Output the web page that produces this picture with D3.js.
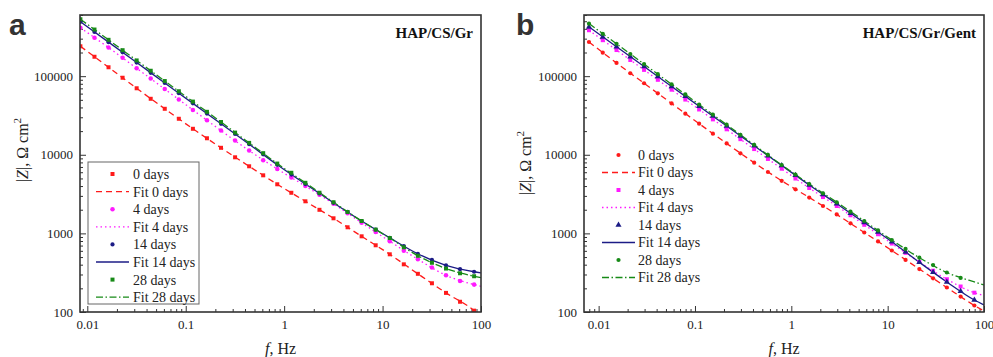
<!DOCTYPE html>
<html>
<head>
<meta charset="utf-8">
<script src="https://cdn.jsdelivr.net/npm/d3@7"></script>
<style>
body { margin: 0; background: #fff; }
svg { display: block; }
.tick text { font-family: "Liberation Serif", "Times New Roman", serif; font-size: 13px; fill: #222; }
.tick line { stroke: #333; }
</style>
</head>
<body>
<div id="chart"></div>
<script>
// |Z| vs frequency (Bode modulus), two panels

// panel a - HAP/CS/Gr
var freqA = [0.00851, 0.01183, 0.01643, 0.02284, 0.03173, 0.04409, 0.06124, 0.08511, 0.1183, 0.1643, 0.2284, 0.3173, 0.4409, 0.6124, 0.8511, 1.183, 1.643, 2.284, 3.173, 4.409, 6.124, 8.511, 11.83, 16.43, 22.84, 31.73, 44.09, 61.24, 85.11];
var zA0 = [240000, 176600, 129800, 95500, 70150, 51550, 38460, 28710, 21410, 16220, 12270, 9290, 7140, 5480, 4215, 3285, 2560, 1995, 1556, 1196, 918, 706, 542, 404, 306, 232, 175, 135, 104];
var zA4 = [413000, 308000, 231000, 171000, 126000, 93100, 68500, 50600, 37200, 27500, 20300, 15170, 11300, 8510, 6600, 5130, 4000, 3100, 2380, 1802, 1364, 1042, 794, 601, 468, 367, 293, 248, 223];
var zA14 = [492000, 365000, 271000, 201000, 149000, 110400, 81900, 60800, 45100, 33400, 24800, 18400, 13650, 10120, 7460, 5600, 4240, 3220, 2450, 1872, 1438, 1117, 879, 690, 550, 461, 393, 351, 325];
var zA28 = [530000, 392000, 290000, 214000, 158500, 117200, 86700, 64300, 47500, 35200, 26100, 19150, 14170, 10480, 7730, 5900, 4400, 3290, 2490, 1872, 1438, 1117, 874, 665, 519, 423, 357, 311, 285];

var fitFreqA = [0.00851, 0.01643, 0.03173, 0.06124, 0.1183, 0.2284, 0.4409, 0.8511, 1.643, 3.173, 6.124, 11.83, 22.84, 44.09, 85.11, 100];
var fitA0 = [240000, 129800, 70150, 38460, 21410, 12270, 7140, 4215, 2560, 1556, 918, 542, 306, 175, 104, 87];
var fitA4 = [413000, 231000, 126000, 68500, 37200, 20300, 11300, 6600, 4000, 2380, 1364, 794, 468, 293, 223, 212];
var fitA14 = [492000, 271000, 149000, 81900, 45100, 24800, 13650, 7460, 4240, 2450, 1438, 879, 550, 393, 325, 314];
var fitA28 = [530000, 290000, 158500, 86700, 47500, 26100, 14170, 7730, 4400, 2490, 1438, 874, 519, 357, 285, 274];

// panel b - HAP/CS/Gr/Gent
var freqB = [0.00794, 0.01104, 0.01534, 0.02132, 0.02962, 0.04115, 0.05718, 0.07943, 0.1104, 0.1534, 0.2132, 0.2962, 0.4115, 0.5718, 0.7943, 1.104, 1.534, 2.132, 2.962, 4.115, 5.718, 7.943, 11.04, 15.34, 21.32, 29.62, 41.15, 57.18, 79.43];
var zB0 = [272000, 199000, 147200, 108900, 81300, 60600, 44960, 33340, 24890, 18540, 13930, 10450, 7930, 6040, 4670, 3640, 2860, 2230, 1740, 1344, 1026, 789, 606, 459, 352, 268, 205, 157, 121];
var zB4 = [384000, 287000, 215000, 160700, 120200, 89900, 67300, 50400, 37700, 28200, 21100, 15800, 11820, 8850, 6650, 4990, 3780, 2900, 2230, 1700, 1286, 975, 743, 566, 433, 335, 261, 211, 176];
var zB14 = [423000, 316000, 237000, 177000, 132400, 99100, 74100, 55500, 41500, 31050, 23230, 17380, 13020, 9740, 7310, 5480, 4130, 3126, 2380, 1807, 1371, 1042, 782, 580, 429, 320, 241, 184, 142];
var zB28 = [466000, 346000, 258000, 191500, 142600, 106000, 78900, 58600, 43600, 32500, 24150, 17960, 13370, 9940, 7410, 5610, 4250, 3240, 2490, 1888, 1438, 1089, 824, 634, 491, 396, 318, 271];

var fitFreqB = [0.00794, 0.01534, 0.02962, 0.05718, 0.1104, 0.2132, 0.4115, 0.7943, 1.534, 2.962, 5.718, 11.04, 21.32, 41.15, 79.43, 100];
var fitB0 = [272000, 147200, 81300, 44960, 24890, 13930, 7930, 4670, 2860, 1740, 1026, 606, 352, 205, 121, 103];
var fitB4 = [384000, 215000, 120200, 67300, 37700, 21100, 11820, 6650, 3780, 2230, 1286, 743, 433, 261, 176, 162];
var fitB14 = [423000, 237000, 132400, 74100, 41500, 23230, 13020, 7310, 4130, 2380, 1371, 782, 429, 241, 142, 123];
var fitB28 = [466000, 258000, 142600, 78900, 43600, 24150, 13370, 7410, 4250, 2490, 1438, 824, 491, 318, 241, 221];

// ticks
var xTicks = [0.01, 0.1, 1, 10, 100];
var yTicks = [100, 1000, 10000, 100000];
var dayLabels = ["0 days", "4 days", "14 days", "28 days"];

// styles
var colors = ["#ff1a1a", "#ff1aff", "#1c1c86", "#178a17"];
var dashes = ["6,4", "1.5,3", null, "7,2.5,1.5,2.5"];

var svg = d3.select("#chart").append("svg")
    .attr("width", 993)
    .attr("height", 357);

var serif = "'Liberation Serif', 'Times New Roman', serif";

function drawPanel(p, idx) {
    var top = 15, bottom = 312;
    var x = d3.scaleLog().domain(p.xDomain).range([p.x0, p.x1]);
    var y = d3.scaleLog().domain([100, 600000]).range([bottom, top]);

    var g = svg.append("g");

    g.append("clipPath").attr("id", "clip" + idx)
        .append("rect")
        .attr("x", p.x0).attr("y", top)
        .attr("width", p.x1 - p.x0).attr("height", bottom - top);

    // minor tick positions
    var minorX = [], minorY = [];
    for (var e = -3; e <= 1; e++) {
        for (var m = 2; m <= 9; m++) {
            var v = m * Math.pow(10, e);
            if (v >= p.xDomain[0] && v <= p.xDomain[1]) minorX.push(v);
        }
    }
    for (var e2 = 2; e2 <= 5; e2++) {
        for (var m2 = 2; m2 <= 9; m2++) {
            var v2 = m2 * Math.pow(10, e2);
            if (v2 <= 600000) minorY.push(v2);
        }
    }

    var xMinor = g.append("g").attr("transform", `translate(0,${bottom})`)
        .call(d3.axisBottom(x).tickValues(minorX).tickSize(-3).tickFormat(""));
    var xMajor = g.append("g").attr("transform", `translate(0,${bottom})`)
        .call(d3.axisBottom(x).tickValues(xTicks).tickSize(-6).tickPadding(8).tickFormat(d => String(d)));
    var yMinor = g.append("g").attr("transform", `translate(${p.x0},0)`)
        .call(d3.axisLeft(y).tickValues(minorY).tickSize(-3).tickFormat(""));
    var yMajor = g.append("g").attr("transform", `translate(${p.x0},0)`)
        .call(d3.axisLeft(y).tickValues(yTicks).tickSize(-6).tickPadding(7).tickFormat(d => String(d)));
    [xMinor, xMajor, yMinor, yMajor].forEach(a => a.select(".domain").remove());

    // fit lines
    var line = d3.line()
        .x(d => x(d[0]))
        .y(d => y(d[1]))
        .curve(d3.curveMonotoneX);

    var plot = g.append("g").attr("clip-path", `url(#clip${idx})`);

    p.fits.forEach(function(vals, i) {
        var pts = vals.map((v, j) => [p.fitFreq[j], v]);
        plot.append("path")
            .attr("d", line(pts))
            .attr("fill", "none")
            .attr("stroke", colors[i])
            .attr("stroke-width", 1.3)
            .attr("stroke-dasharray", dashes[i]);
    });

    // measured points
    p.series.forEach(function(vals, i) {
        var sym = d3.symbol().type(p.symbols[i]).size(p.sizes[i]);
        plot.selectAll(".pt" + i)
            .data(vals.map((v, j) => [p.freq[j], v]))
            .enter()
            .append("path")
            .attr("class", "pt" + i)
            .attr("transform", d => `translate(${x(d[0])},${y(d[1])})`)
            .attr("d", sym())
            .attr("fill", colors[i]);
    });

    // frame
    g.append("rect")
        .attr("x", p.x0).attr("y", top)
        .attr("width", p.x1 - p.x0).attr("height", bottom - top)
        .attr("fill", "none")
        .attr("stroke", "#333")
        .attr("stroke-width", 1.6);

    // legend
    var lg = g.append("g");
    if (p.boxed) {
        lg.append("rect")
            .attr("x", p.box[0]).attr("y", p.box[1])
            .attr("width", p.box[2]).attr("height", p.box[3])
            .attr("fill", "#fff")
            .attr("stroke", "#666")
            .attr("stroke-width", 1);
    }
    dayLabels.forEach(function(lab, i) {
        var y1 = p.legY + p.legStep * (2 * i);
        var y2 = y1 + p.legStep;
        lg.append("path")
            .attr("transform", `translate(${(p.legX0 + p.legX1) / 2},${y1})`)
            .attr("d", d3.symbol().type(p.symbols[i]).size(p.sizes[i])())
            .attr("fill", colors[i]);
        lg.append("text")
            .attr("x", p.legText).attr("y", y1).attr("dy", "0.35em")
            .attr("font-family", serif).attr("font-size", 14).attr("fill", "#222")
            .text(lab);
        lg.append("line")
            .attr("x1", p.legX0).attr("x2", p.legX1)
            .attr("y1", y2).attr("y2", y2)
            .attr("stroke", colors[i])
            .attr("stroke-width", 1.3)
            .attr("stroke-dasharray", dashes[i]);
        lg.append("text")
            .attr("x", p.legText).attr("y", y2).attr("dy", "0.35em")
            .attr("font-family", serif).attr("font-size", 14).attr("fill", "#222")
            .text("Fit " + lab);
    });

    // panel letter + title
    g.append("text")
        .attr("x", p.letterX).attr("y", 35)
        .attr("font-family", "'Liberation Sans', Arial, sans-serif")
        .attr("font-weight", "bold").attr("font-size", 30).attr("fill", "#333")
        .text(p.letter);
    g.append("text")
        .attr("x", p.x1 - 8).attr("y", 38)
        .attr("text-anchor", "end")
        .attr("font-family", serif).attr("font-weight", "bold")
        .attr("font-size", 15).attr("fill", "#111")
        .text(p.title);

    // axis titles
    var xt = g.append("text")
        .attr("x", (p.x0 + p.x1) / 2).attr("y", 354)
        .attr("text-anchor", "middle")
        .attr("font-family", serif).attr("font-size", 16).attr("fill", "#222");
    xt.append("tspan").attr("font-style", "italic").text("f");
    xt.append("tspan").text(", Hz");

    var yt = g.append("text")
        .attr("transform", `translate(${p.yLabX},${p.yLabY}) rotate(-90)`)
        .attr("text-anchor", "middle")
        .attr("font-family", serif).attr("font-size", 16).attr("fill", "#222");
    yt.append("tspan").text("|");
    yt.append("tspan").attr("font-style", "italic").text("Z");
    yt.append("tspan").text("|, \u03A9 cm");
    yt.append("tspan").attr("font-size", 11).attr("dy", -7).text("2");
}

drawPanel({
    xDomain: [0.00843, 100], x0: 80, x1: 481,
    freq: freqA, fitFreq: fitFreqA,
    series: [zA0, zA4, zA14, zA28],
    fits: [fitA0, fitA4, fitA14, fitA28],
    symbols: [d3.symbolSquare, d3.symbolCircle, d3.symbolCircle, d3.symbolSquare],
    sizes: [16, 16, 14, 16],
    boxed: true, box: [88, 162, 111, 142],
    legY: 174, legStep: 17.6, legX0: 96, legX1: 129, legText: 133,
    letter: "a", letterX: 9,
    title: "HAP/CS/Gr",
    yLabX: 28, yLabY: 150
}, 0);

drawPanel({
    xDomain: [0.00705, 100], x0: 584, x1: 984,
    freq: freqB, fitFreq: fitFreqB,
    series: [zB0, zB4, zB14, zB28],
    fits: [fitB0, fitB4, fitB14, fitB28],
    symbols: [d3.symbolCircle, d3.symbolSquare, d3.symbolTriangle, d3.symbolCircle],
    sizes: [14, 16, 16, 14],
    boxed: false,
    legY: 155, legStep: 17.5, legX0: 602, legX1: 635, legText: 638,
    letter: "b", letterX: 516,
    title: "HAP/CS/Gr/Gent",
    yLabX: 531, yLabY: 163
}, 1);
</script>
</body>
</html>
